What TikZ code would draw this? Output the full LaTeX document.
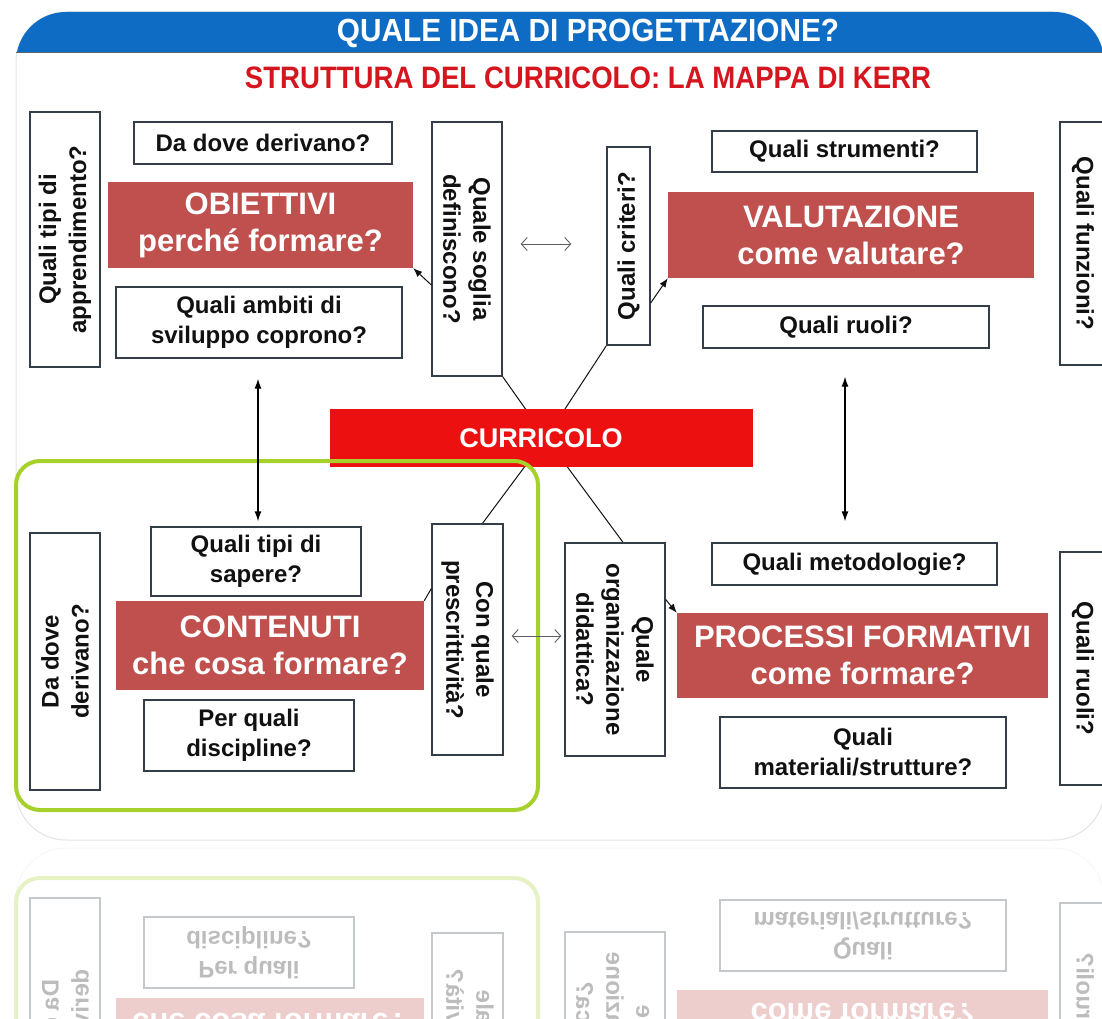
\documentclass[tikz,border=0pt]{standalone}
\usepackage{fontspec}
\setmainfont{Liberation Sans}
\newfontfamily\titlefont{Liberation Sans}[FakeStretch=0.93]
\newfontfamily\subfont{Liberation Sans}[FakeStretch=0.89]
\usetikzlibrary{arrows.meta}
\pgfdeclarelayer{bg}
\pgfsetlayers{bg,main}
\definecolor{banner}{RGB}{14,108,196}
\definecolor{boxred}{RGB}{192,80,77}
\definecolor{currred}{RGB}{236,16,16}
\definecolor{subred}{RGB}{214,22,30}
\definecolor{lime}{RGB}{166,209,42}
\definecolor{edge}{RGB}{52,62,72}
\definecolor{ink}{RGB}{17,17,17}
\tikzset{
 qbox/.style={draw=edge, line width=1.3pt, fill=white, text=ink, font=\bfseries\fontsize{24}{30}\selectfont, align=center, inner sep=0pt},
 vup/.style={qbox, rotate=90},
 vdown/.style={qbox, rotate=-90},
 redbox/.style={fill=boxred, text=white, font=\bfseries\fontsize{31}{37}\selectfont, align=center, inner sep=0pt},
 lk/.style={draw=ink, line width=1pt},
 tipa/.style={lk, -{Latex[length=9pt,width=7pt]}},
 vdbl/.style={draw=black, line width=1.3pt, {Latex[length=10pt,width=7pt]}-{Latex[length=10pt,width=7pt]}},
 hdbl/.style={draw=gray!75!black, line width=0.9pt, {Straight Barb[length=6pt,width=13pt]}-{Straight Barb[length=6pt,width=13pt]}},
 greenframe/.style={draw=lime, line width=4pt, rounded corners=24pt},
 paneledge/.style={draw=gray!22, line width=1pt, rounded corners=50pt},
}
\newcommand\lowerpart{%
 \node[vup, minimum width=257pt, minimum height=70pt] (dadove2) at (65,661.5) {Da dove\\derivano?};
 \node[qbox, minimum width=210pt, minimum height=69pt] (sapere) at (256,561.5) {Quali tipi di\\sapere?};
 \node[redbox, minimum width=308pt, minimum height=89pt] (contenuti) at (270,645.5) {CONTENUTI\\che cosa formare?};
 \node[qbox, minimum width=210pt, minimum height=71pt] (discipline) at (249,735.5) {Per quali\\discipline?};
 \node[vdown, minimum width=231pt, minimum height=71pt] (prescr) at (467.5,639.5) {Con quale\\prescrittività?};
 \node[vdown, minimum width=213pt, minimum height=100pt] (organ) at (615,649.5) {Quale\\organizzazione\\didattica?};
 \node[qbox, minimum width=285pt, minimum height=42pt] (metod) at (854.5,564) {Quali metodologie?};
 \node[redbox, minimum width=371pt, minimum height=85pt] (processi) at (862.5,655.5) {PROCESSI FORMATIVI\\come formare?};
 \node[qbox, minimum width=286pt, minimum height=71pt] (materiali) at (863,752.5) {Quali\\materiali/strutture?};
 \node[vdown, minimum width=233pt, minimum height=46pt] (ruoli2) at (1083,668.5) {Quali ruoli?};
 \draw[greenframe] (16,461) rectangle (538,810);
}
\begin{document}
\begin{tikzpicture}[x=1pt,y=-1pt]
\useasboundingbox (0,0) rectangle (1102,1019);
% panel and banner
\draw[paneledge] (16,12) rectangle (1104,840);
\begin{scope}
 \clip (0,12) rectangle (1102,52);
 \fill[banner, rounded corners=50pt] (16,12) rectangle (1104,300);
\end{scope}
\draw[draw=edge!80, line width=1.2pt] (16,52.5) -- (1102,52.5);
\node[font=\titlefont\bfseries\fontsize{32}{36}\selectfont, text=white] (title) at (588,33) {QUALE IDEA DI PROGETTAZIONE?};
\node[font=\subfont\bfseries\fontsize{31}{36}\selectfont, text=subred] (subtitle) at (588,78) {STRUTTURA DEL CURRICOLO: LA MAPPA DI KERR};
% upper part
\node[vup, minimum width=255pt, minimum height=70pt] (appr) at (65,239.5) {Quali tipi di\\apprendimento?};
\node[qbox, minimum width=258pt, minimum height=42pt] (dadove1) at (263,143) {Da dove derivano?};
\node[redbox, minimum width=305pt, minimum height=86pt] (obiettivi) at (260.5,225) {OBIETTIVI\\perché formare?};
\node[qbox, minimum width=286pt, minimum height=71pt] (ambiti) at (259,322.5) {Quali ambiti di\\sviluppo coprono?};
\node[vdown, minimum width=254pt, minimum height=70pt] (soglia) at (467,249) {Quale soglia\\definiscono?};
\node[vup, minimum width=198pt, minimum height=43pt] (criteri) at (628.5,246) {Quali criteri?};
\node[qbox, minimum width=265pt, minimum height=41pt] (strumenti) at (844.5,151.5) {Quali strumenti?};
\node[redbox, minimum width=366pt, minimum height=86pt] (valutazione) at (851,235) {VALUTAZIONE\\come valutare?};
\node[qbox, minimum width=286pt, minimum height=42pt] (ruoli1) at (846,327) {Quali ruoli?};
\node[vdown, minimum width=243pt, minimum height=46pt] (funzioni) at (1083,243.5) {Quali funzioni?};
% centre
\node[fill=currred, text=white, font=\bfseries\fontsize{27}{32}\selectfont, minimum width=423pt, minimum height=58pt, inner sep=0pt] (curr) at (541,438) {CURRICOLO};
% lower part
\lowerpart
% connectors
\begin{pgfonlayer}{bg}
 \draw[lk] ([xshift=5pt]curr.center) -- (soglia.north east);
 \draw[lk] ([xshift=5pt]curr.center) -- (criteri.north west);
 \draw[lk] ([xshift=5pt]curr.center) -- ([xshift=15pt]prescr.west);
 \draw[lk] ([xshift=5pt]curr.center) -- ([xshift=8pt]organ.west);
\end{pgfonlayer}
\draw[tipa] ([yshift=-36pt]soglia.south) -- (obiettivi.south east);
\draw[tipa] ([yshift=-57pt]criteri.south) -- (valutazione.south west);
\draw[tipa] ([yshift=50pt]organ.north) -- (processi.north west);
\draw[lk] ([yshift=51pt]prescr.south) -- (contenuti.north east);
\draw[vdbl, shorten <=20pt, shorten >=5pt] ([xshift=-1pt]ambiti.south) -- ([xshift=-1pt]ambiti.south |- sapere.north);
\draw[vdbl, shorten <=28pt, shorten >=21pt] ([xshift=-1pt]ruoli1.south) -- ([xshift=-1pt]ruoli1.south |- metod.north);
\draw[hdbl, shorten <=18pt, shorten >=35pt] ([yshift=5pt]soglia.north) -- ([yshift=5pt]soglia.north -| criteri.north);
\draw[hdbl, shorten <=8pt, shorten >=3pt] ([yshift=3.5pt]prescr.north) -- ([yshift=3.5pt]prescr.north -| organ.south);
% reflection
\begin{scope}
 \clip (0,846) rectangle (1102,1019);
 \begin{scope}[yshift=-1688pt, yscale=-1, transform shape, name prefix=r-]
  \draw[paneledge] (16,12) rectangle (1104,840);
  \lowerpart
 \end{scope}
 \fill[white, fill opacity=0.72] (0,846) rectangle (1102,1019);
\end{scope}
\end{tikzpicture}
\end{document}
